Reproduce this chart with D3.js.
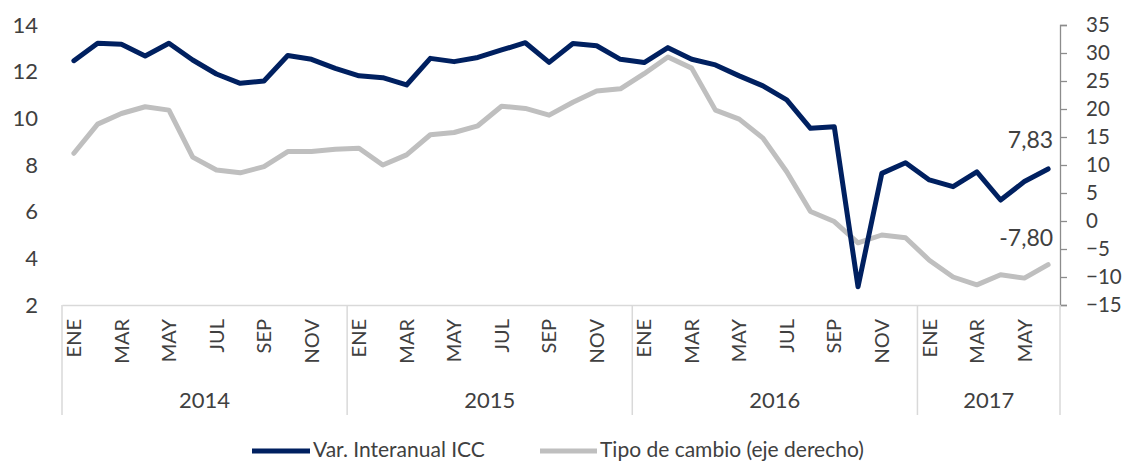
<!DOCTYPE html>
<html>
<head>
<meta charset="utf-8">
<script src="https://cdn.jsdelivr.net/npm/d3@7"></script>
<style>
  html, body { margin: 0; padding: 0; background: #ffffff; }
  svg { display: block; font-family: Lato, "Open Sans", sans-serif; }
</style>
</head>
<body>
<svg id="chart" width="1123" height="462"></svg>
<script>
// ---- data ----
const years = ["2014", "2015", "2016", "2017"];
const monthNames = ["ENE","FEB","MAR","ABR","MAY","JUN","JUL","AGO","SEP","OCT","NOV","DIC"];
const monthsPerYear = [12, 12, 12, 6];
const iccValues = [
  12.47, 13.22, 13.17, 12.67, 13.22, 12.50, 11.90, 11.50, 11.60, 12.69, 12.53, 12.14,
  11.82, 11.74, 11.43, 12.57, 12.43, 12.61, 12.93, 13.24, 12.40, 13.21, 13.11, 12.53,
  12.39, 13.03, 12.53, 12.29, 11.82, 11.39, 10.79, 9.57, 9.64, 2.78, 7.64, 8.10,
  7.36, 7.07, 7.71, 6.50, 7.29, 7.83
];
const tcValues = [
  12.1, 17.3, 19.2, 20.4, 19.8, 11.4, 9.1, 8.6, 9.7, 12.4, 12.4, 12.8,
  13.0, 10.0, 11.8, 15.4, 15.8, 17.0, 20.5, 20.1, 18.9, 21.2, 23.2, 23.6,
  26.3, 29.3, 27.3, 19.8, 18.2, 14.8, 8.8, 1.7, -0.1, -3.9, -2.5, -3.0,
  -7.0, -10.0, -11.4, -9.6, -10.2, -7.8
];
const leftTicks = [2, 4, 6, 8, 10, 12, 14];
const rightTicks = [-15, -10, -5, 0, 5, 10, 15, 20, 25, 30, 35];
const seriesNames = ["Var. Interanual ICC", "Tipo de cambio (eje derecho)"];
const lastLabels = ["7,83", "-7,80"];

// categories
const categories = [];
years.forEach((y, yi) => {
  for (let m = 0; m < monthsPerYear[yi]; m++) categories.push({ key: y + "-" + m, year: y, month: monthNames[m], m });
});

// ---- layout ----
const svg = d3.select("#chart");
const plotLeft = 62, plotRight = 1060, plotTop = 25, plotBottom = 305;
const textColor = "#404040";
const navy = "#002060", gray = "#bfbfbf";

const x = d3.scaleBand().domain(categories.map(d => d.key)).range([plotLeft, plotRight]).padding(0);
const cx = k => x(k) + x.bandwidth() / 2;
const yL = d3.scaleLinear().domain([2, 14]).range([plotBottom, plotTop]);
const yR = d3.scaleLinear().domain([-15, 35]).range([plotBottom, plotTop]);

// left axis (labels only)
const gL = svg.append("g").attr("transform", `translate(${plotLeft},0)`)
  .call(d3.axisLeft(yL).tickValues(leftTicks).tickSize(0).tickPadding(24));
gL.select(".domain").remove();
gL.selectAll("text").attr("fill", textColor).style("font-size", "22px").style("font-family", "Lato");

// right axis
const gR = svg.append("g").attr("transform", `translate(${plotRight},0)`)
  .call(d3.axisRight(yR).tickValues(rightTicks).tickSize(7).tickSizeOuter(7).tickPadding(19));
gR.select(".domain").attr("stroke", "#8c8c8c").attr("stroke-width", 1.3);
gR.selectAll(".tick line").attr("stroke", "#8c8c8c").attr("stroke-width", 1.3);
gR.selectAll("text").attr("fill", textColor).style("font-size", "20.5px").style("font-family", "Lato");

// bottom category axis
const gB = svg.append("g").attr("transform", `translate(0,${plotBottom})`)
  .call(d3.axisBottom(x).tickSize(0).tickFormat(k => {
    const c = categories.find(d => d.key === k);
    return c.m % 2 === 0 ? c.month : "";
  }));
gB.select(".domain").attr("stroke", "#d9d9d9").attr("stroke-width", 1.5);
gB.selectAll("text")
  .attr("fill", textColor)
  .style("font-size", "20px").style("font-family", "Lato")
  .attr("text-anchor", "end")
  .attr("transform", "rotate(-90)")
  .attr("x", -14).attr("y", 0).attr("dy", "0.36em");

// group separators + year labels
let acc = 0;
const bounds = [0];
monthsPerYear.forEach(n => { acc += n; bounds.push(acc); });
bounds.forEach(b => {
  const xx = b < categories.length ? x(categories[b].key) : plotRight;
  svg.append("line").attr("x1", xx).attr("x2", xx).attr("y1", plotBottom).attr("y2", 415)
    .attr("stroke", "#d9d9d9").attr("stroke-width", 1.5);
});
years.forEach((y, yi) => {
  const x0 = x(categories[bounds[yi]].key);
  const x1 = bounds[yi + 1] < categories.length ? x(categories[bounds[yi + 1]].key) : plotRight;
  svg.append("text").attr("x", (x0 + x1) / 2).attr("y", 408)
    .attr("text-anchor", "middle").attr("fill", textColor)
    .style("font-size", "22px").text(y);
});

// lines
const lineL = d3.line().x((d, i) => cx(categories[i].key)).y(d => yL(d));
const lineR = d3.line().x((d, i) => cx(categories[i].key)).y(d => yR(d));
svg.append("path").datum(tcValues).attr("d", lineR)
  .attr("fill", "none").attr("stroke", gray).attr("stroke-width", 5)
  .attr("stroke-linejoin", "round").attr("stroke-linecap", "round");
svg.append("path").datum(iccValues).attr("d", lineL)
  .attr("fill", "none").attr("stroke", navy).attr("stroke-width", 5)
  .attr("stroke-linejoin", "round").attr("stroke-linecap", "round");

// data labels at last point
const lastKey = categories[categories.length - 1].key;
svg.append("text").attr("x", cx(lastKey) + 5).attr("y", yL(iccValues[iccValues.length - 1]) - 21)
  .attr("text-anchor", "end").attr("fill", textColor).style("font-size", "23px").text(lastLabels[0]);
svg.append("text").attr("x", cx(lastKey) + 5).attr("y", yR(tcValues[tcValues.length - 1]) - 19)
  .attr("text-anchor", "end").attr("fill", textColor).style("font-size", "23px").text(lastLabels[1]);

// legend
const legendItems = [
  { name: seriesNames[0], color: navy, x1: 252, x2: 310, tx: 313 },
  { name: seriesNames[1], color: gray, x1: 540, x2: 597, tx: 600 }
];
legendItems.forEach(it => {
  svg.append("line").attr("x1", it.x1).attr("x2", it.x2).attr("y1", 451).attr("y2", 451)
    .attr("stroke", it.color).attr("stroke-width", 5);
  svg.append("text").attr("x", it.tx).attr("y", 456.5)
    .attr("fill", textColor).style("font-size", "21px").text(it.name);
});
</script>
</body>
</html>
